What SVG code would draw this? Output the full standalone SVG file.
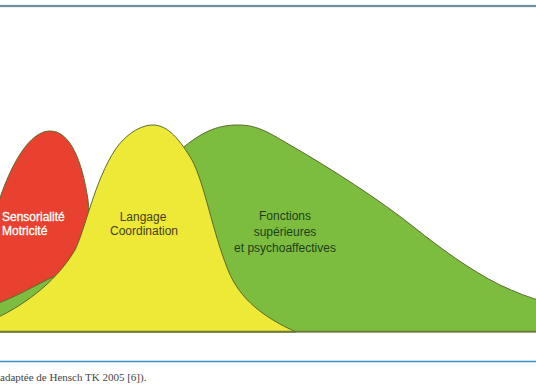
<svg xmlns="http://www.w3.org/2000/svg" width="536" height="386" viewBox="0 0 536 386">
  <style>
    .shape { stroke: #5b6a2c; stroke-width: 1; stroke-linejoin: round; }
    .lbl { font-family: "Liberation Sans", Arial, sans-serif; font-size: 12px; }
    .cap { font-family: "Liberation Serif", "Times New Roman", serif; font-size: 11px; fill: #444; }
  </style>
  <rect x="0" y="0" width="536" height="386" fill="#ffffff"/>
  <!-- top rule -->
  <rect x="0" y="4" width="536" height="4" fill="#e6f6f8"/>
  <line x1="0" y1="6" x2="536" y2="6" stroke="#4a6e7e" stroke-width="1.6"/>

  <g id="fonctions">
    <path class="shape" fill="#7cbd3f" d="M -10 298 C 50 278, 130 190, 185 146 C 205 130, 220 125, 238 125 C 255 125, 265 130, 290 145 C 330 168, 380 200, 415 228 C 440 248, 470 270, 500 285 C 515 292, 530 298, 545 302 L 545 332 L -10 332 Z"/>
    <text class="lbl" fill="#1f3d1a" text-anchor="middle" x="285" y="220">Fonctions</text>
    <text class="lbl" fill="#1f3d1a" text-anchor="middle" x="285" y="236">supérieures</text>
    <text class="lbl" fill="#1f3d1a" text-anchor="middle" x="285" y="252">et psychoaffectives</text>
  </g>

  <g id="sensorialite">
    <path class="shape" fill="#e8412f" d="M -15 260 C -5 195, 22 131, 50 131 C 70 131, 82 160, 88 200 C 92 240, 80 268, 55 276 C 35 285, 15 298, -10 306 Z"/>
    <text class="lbl" fill="#ffffff" stroke="#ffffff" stroke-width="0.3" x="2" y="221">Sensorialité</text>
    <text class="lbl" fill="#ffffff" stroke="#ffffff" stroke-width="0.3" x="2" y="235">Motricité</text>
  </g>

  <g id="langage">
    <path class="shape" fill="#eee836" d="M -10 321 C 20 308, 55 284, 75 250 C 85 230, 95 180, 115 150 C 125 135, 140 125, 153 125 C 168 125, 180 140, 192 160 C 205 185, 212 230, 228 270 C 240 300, 265 318, 296 332 L -10 332 Z"/>
    <text class="lbl" fill="#45421a" text-anchor="middle" x="143" y="221">Langage</text>
    <text class="lbl" fill="#45421a" text-anchor="middle" x="144" y="235">Coordination</text>
  </g>

  <g id="connectors">
    <line x1="0" y1="331.5" x2="536" y2="331.5" stroke="#6b7a3a" stroke-width="1.6"/>
  </g>

  <!-- bottom rule -->
  <line x1="0" y1="361.5" x2="536" y2="361.5" stroke="#3d8ec4" stroke-width="1.5"/>
  <text class="cap" x="0" y="381">adaptée de Hensch TK 2005 [6]).</text>
</svg>
